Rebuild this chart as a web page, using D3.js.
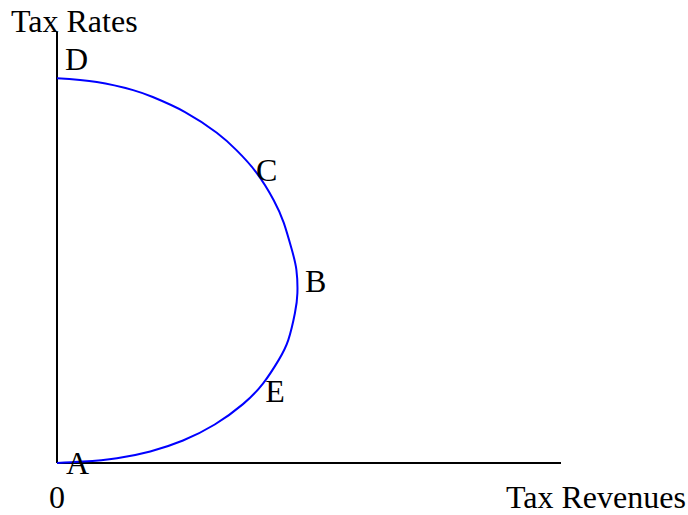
<!DOCTYPE html>
<html>
<head>
<meta charset="utf-8">
<script src="https://cdn.jsdelivr.net/npm/d3@7"></script>
<style>
  body { margin: 0; background: #fff; }
  text { font-family: "Liberation Serif", "Times New Roman", serif; font-size: 32px; fill: #000; }
</style>
</head>
<body>
<svg width="688" height="515"></svg>
<script>
// revenue (x) vs tax rate (y), from A round to D
var revenue = [0, 5.2, 11.9, 18.5, 25.0, 31.3, 36.9, 40.9, 44.0, 45.9, 47.2, 47.7,
               47.5, 46.6, 45.0, 43.0, 39.6, 35.6, 31.7, 25.4, 19.0, 15.1, 7.9, 0];
var rate    = [0, 0.36, 1.25, 3.0, 5.85, 10.0, 15.3, 20.7, 26.8, 32.0, 38.9, 44.2,
               50.2, 55.4, 62.4, 68.3, 75.4, 81.3, 85.8, 91.2, 95.1, 96.9, 99.0, 100];

// point labels, placed in data units
var pointNames = ["A", "B", "C", "D", "E"];
var pointRevenue = [1.8, 49.2, 39.5, 1.6, 41.3];
var pointRate = [-2.9, 44.4, 73.3, 102.1, 15.9];

var xTitle = "Tax Revenues",
    yTitle = "Tax Rates",
    originLabel = "0";

var svg = d3.select("svg");

var x = d3.scaleLinear().domain([0, 100]).range([57, 561]);
var y = d3.scaleLinear().domain([0, 112]).range([463, 32]);

var curve = revenue.map(function(d, i) { return [d, rate[i]]; });

var line = d3.line()
    .x(function(d) { return x(d[0]); })
    .y(function(d) { return y(d[1]); })
    .curve(d3.curveNatural);

// axes
svg.append("line")
    .attr("x1", x(0)).attr("y1", y(0))
    .attr("x2", x(0)).attr("y2", y(112))
    .attr("stroke", "#000").attr("stroke-width", 2);

svg.append("line")
    .attr("x1", x(0)).attr("y1", y(0))
    .attr("x2", x(100)).attr("y2", y(0))
    .attr("stroke", "#000").attr("stroke-width", 2);

svg.append("path")
    .datum(curve)
    .attr("d", line)
    .attr("fill", "none")
    .attr("stroke", "#0000ff")
    .attr("stroke-width", 2);

svg.selectAll(".pt-label")
  .data(pointNames)
  .enter().append("text")
    .attr("class", "pt-label")
    .attr("x", function(d, i) { return x(pointRevenue[i]); })
    .attr("y", function(d, i) { return y(pointRate[i]); })
    .text(function(d) { return d; });

svg.append("text")
    .attr("x", 11)
    .attr("y", 32)
    .text(yTitle);

svg.append("text")
    .attr("x", 506)
    .attr("y", 508)
    .text(xTitle);

svg.append("text")
    .attr("x", 49)
    .attr("y", 508)
    .text(originLabel);
</script>
</body>
</html>
